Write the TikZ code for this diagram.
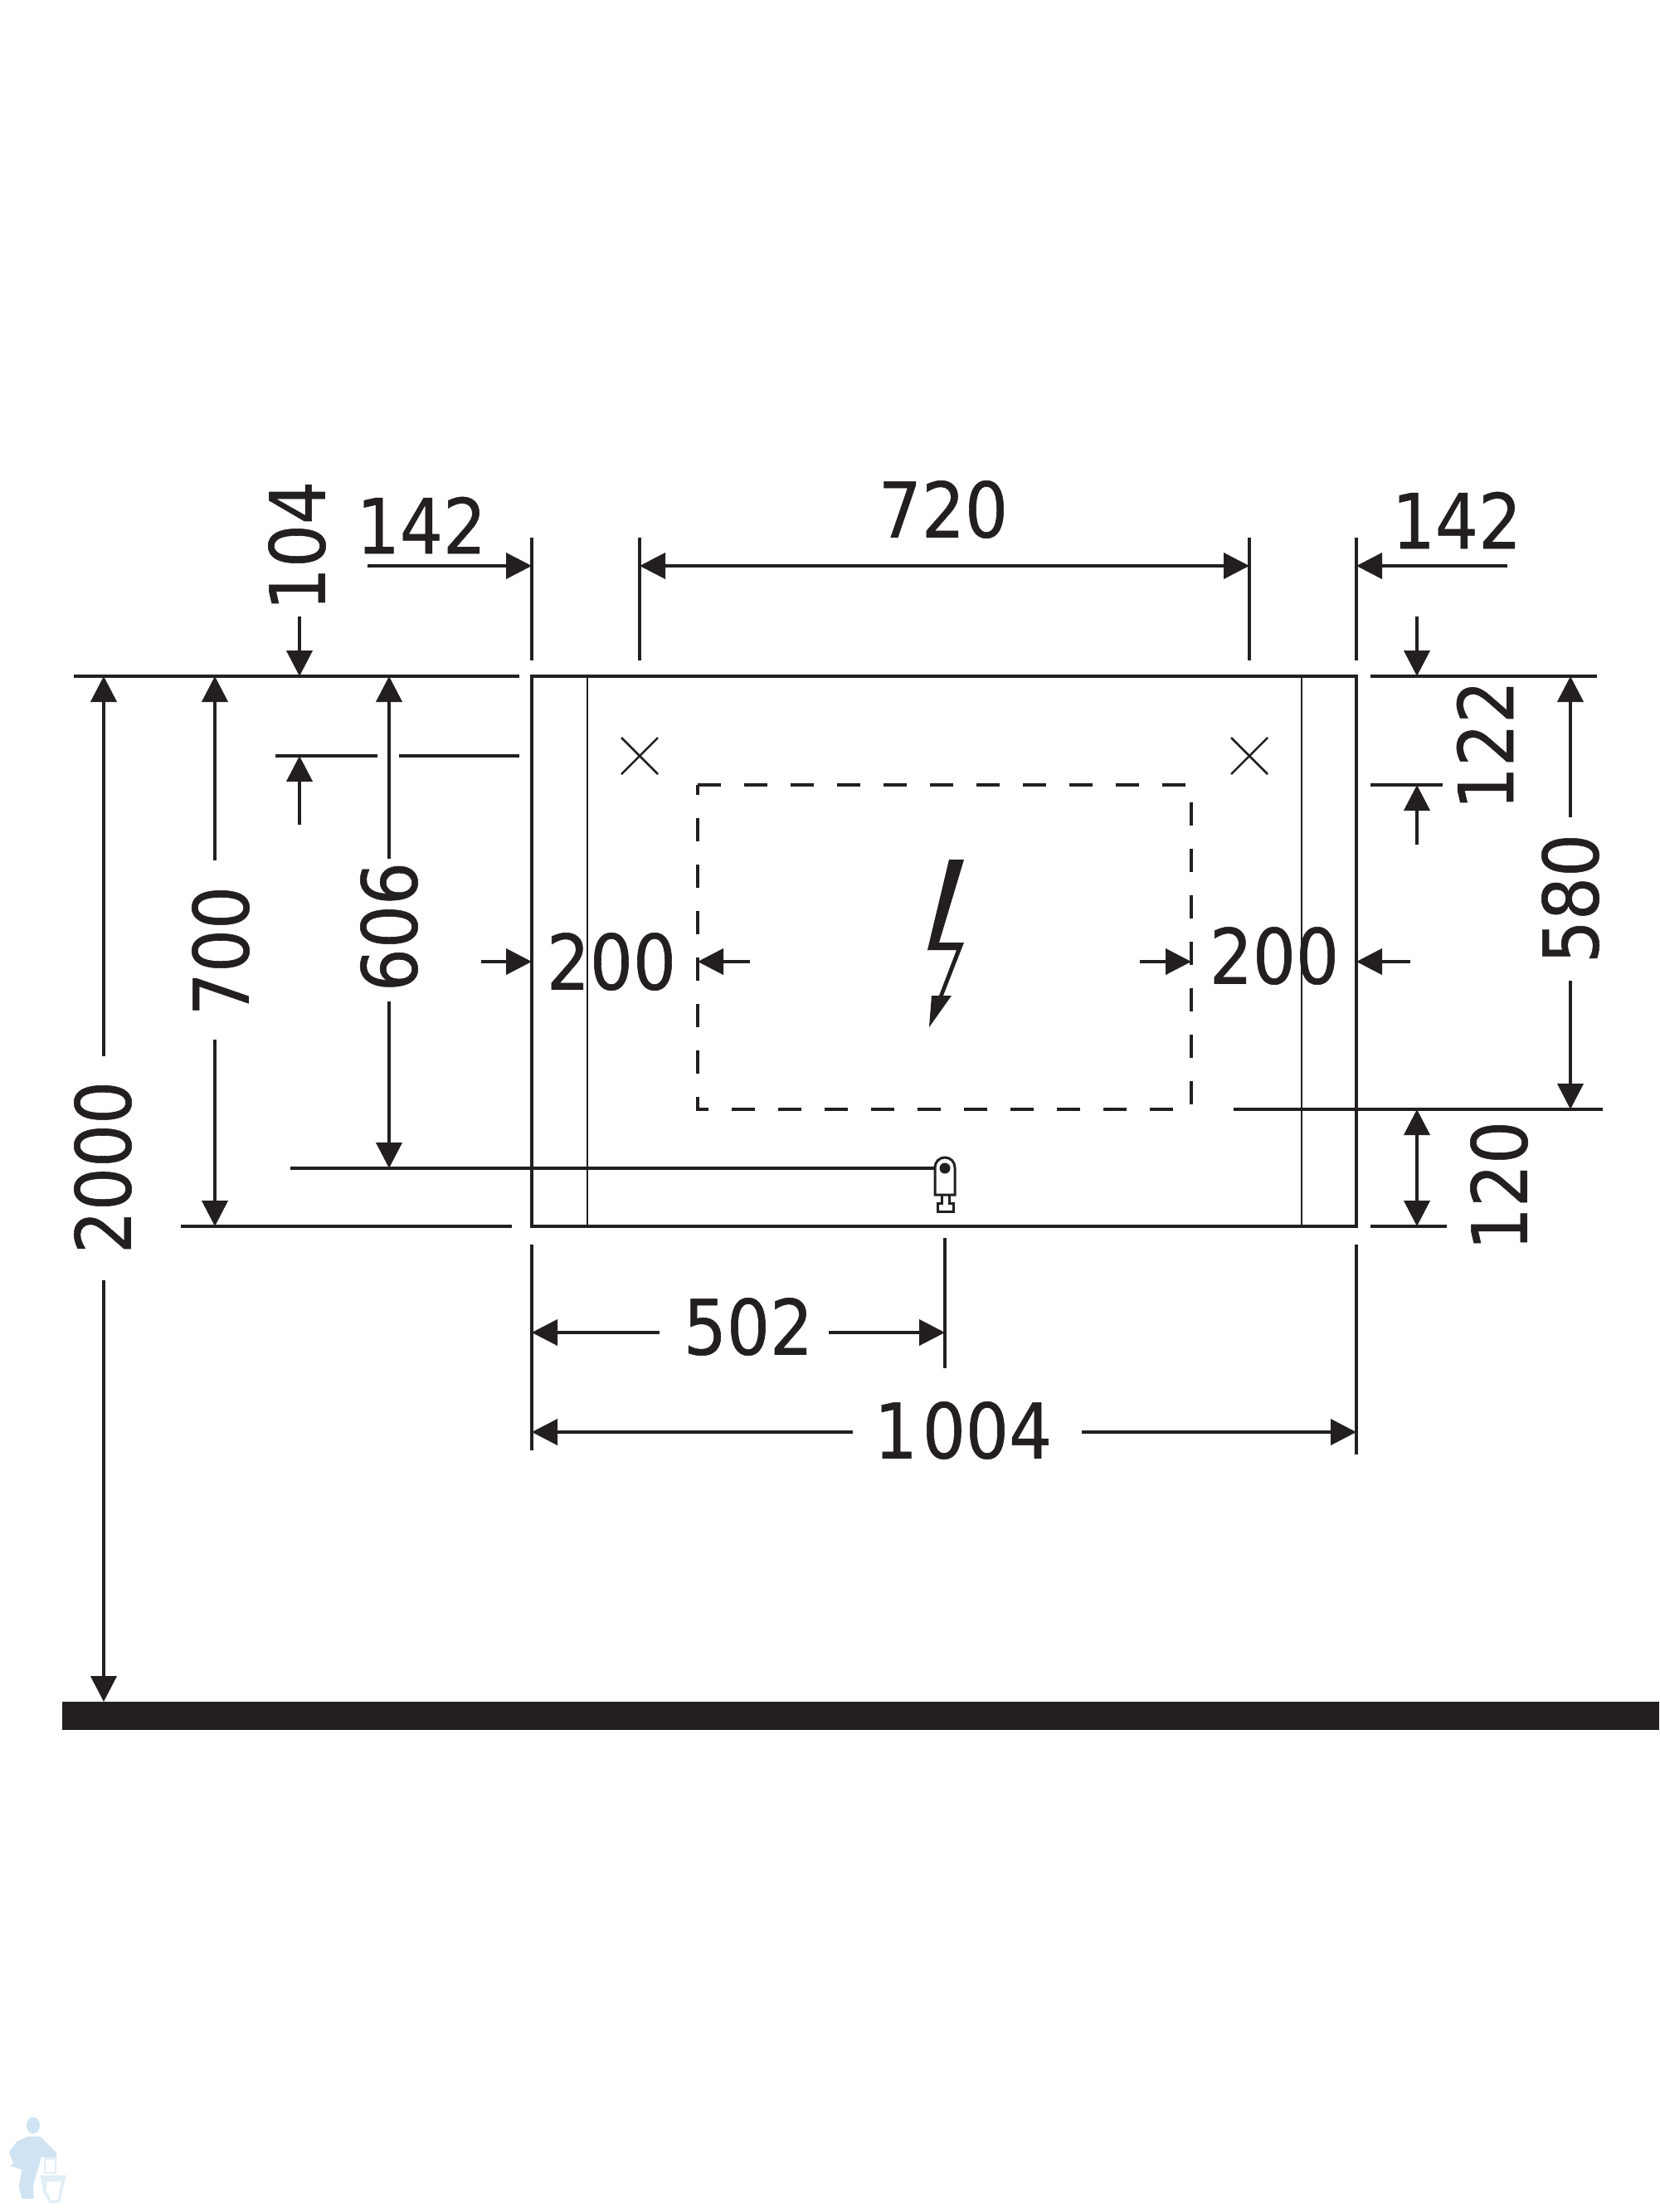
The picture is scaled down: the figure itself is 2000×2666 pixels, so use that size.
\documentclass[tikz,border=0pt]{standalone}
\usepackage{fontspec}
\usetikzlibrary{arrows.meta}
\setmainfont[FakeStretch=0.89,FakeBold=0.6]{DejaVu Sans}
\definecolor{ink}{HTML}{231F20}
\definecolor{wm}{HTML}{CFE3F2}
\definecolor{wmlight}{HTML}{E2EEF6}
\tikzset{
  x=1pt,y=-1pt,
  line/.style={draw=ink,line width=4pt},
  thin line/.style={draw=ink,line width=2.5pt},
  dimA/.style={line,-{Triangle[length=31pt,width=31pt]}},
  dimB/.style={line,{Triangle[length=31pt,width=31pt]}-{Triangle[length=31pt,width=31pt]}},
  lab/.style={text=ink,inner sep=0pt,font=\fontsize{92}{92}\selectfont},
}
\begin{document}
\begin{tikzpicture}
\useasboundingbox (0,0) rectangle (2000,2666);
\fill[white] (0,0) rectangle (2000,2666);
% floor
\fill[ink] (75,2051) rectangle (2000,2085);
% frame
\draw[line] (641,815) rectangle (1635,1478);
\draw[thin line] (708,815) -- (708,1478);
\draw[thin line] (1569,815) -- (1569,1478);
% dashed opening
\draw[line,dash pattern=on 28pt off 28pt] (841,946) -- (1436,946) -- (1436,1337) -- (841,1337) -- cycle;
% crosses
\draw[thin line] (749,889) -- (793,933) (749,933) -- (793,889);
\draw[thin line] (1484,889) -- (1528,933) (1484,933) -- (1528,889);
% extension lines
\draw[line] (89,815) -- (626,815);
\draw[line] (1652,815) -- (1925,815);
\draw[line] (332,911) -- (455,911);
\draw[line] (481,911) -- (626,911);
\draw[line] (1652,946) -- (1739,946);
\draw[line] (1487,1337) -- (1932,1337);
\draw[line] (1652,1478) -- (1744,1478);
\draw[line] (218,1478) -- (617,1478);
\draw[line] (350,1408) -- (1139,1408);
\draw[line] (641,648) -- (641,796);
\draw[line] (771,648) -- (771,796);
\draw[line] (1506,648) -- (1506,796);
\draw[line] (1635,648) -- (1635,796);
\draw[line] (641,1500) -- (641,1748);
\draw[line] (1139,1492) -- (1139,1649);
\draw[line] (1635,1500) -- (1635,1753);
% vertical dims
\draw[dimA] (125,1273) -- (125,815);
\draw[dimA] (125,1543) -- (125,2051);
\draw[dimA] (259,1037) -- (259,815);
\draw[dimA] (259,1253) -- (259,1478);
\draw[dimA] (469,1035) -- (469,815);
\draw[dimA] (469,1207) -- (469,1408);
\draw[dimA] (361,743) -- (361,815);
\draw[dimA] (361,994) -- (361,911);
\draw[dimA] (1708,743) -- (1708,815);
\draw[dimA] (1708,1018) -- (1708,946);
\draw[dimA] (1893,985) -- (1893,815);
\draw[dimA] (1893,1182) -- (1893,1337);
\draw[dimB] (1708,1337) -- (1708,1478);
% horizontal dims
\draw[dimA] (443,682) -- (641,682);
\draw[dimB] (771,682) -- (1506,682);
\draw[dimA] (1817,682) -- (1635,682);
\draw[dimA] (580,1159) -- (641,1159);
\draw[dimA] (904,1159) -- (841,1159);
\draw[dimA] (1374,1159) -- (1436,1159);
\draw[dimA] (1700,1159) -- (1635,1159);
\draw[dimA] (795,1606) -- (641,1606);
\draw[dimA] (999,1606) -- (1139,1606);
\draw[dimA] (1028,1726) -- (641,1726);
\draw[dimA] (1304,1726) -- (1635,1726);
% bolt
\fill[ink] (1144,1036) -- (1162,1036) -- (1132,1136) -- (1162,1136) -- (1137,1200) -- (1147,1200) -- (1120,1238) -- (1123,1200) -- (1132,1200) -- (1153,1145) -- (1118,1145) -- cycle;
% siphon
\draw[line,line width=3pt,fill=white] (1127,1440) -- (1127,1407) arc[start angle=180,end angle=360,radius=12] -- (1151,1440) -- cycle;
\fill[ink] (1139,1408) circle (6.5);
\draw[line,line width=3pt] (1135,1440) -- (1135,1450) -- (1130,1450) -- (1130,1460) -- (1149,1460) -- (1149,1450) -- (1144,1450) -- (1144,1440);
% labels
\node[lab,rotate=90] (n2000) at (124,1407) {2000};
\node[lab,rotate=90] (n700) at (266,1146) {700};
\node[lab,rotate=90] (n606) at (469,1117) {606};
\node[lab,rotate=90] (n104) at (358,658) {104};
\node[lab] (n142l) at (508,633) {142};
\node[lab] (n720) at (1137,614) {720};
\node[lab] (n142r) at (1756,627) {142};
\node[lab,rotate=90] (n122) at (1790,898) {122};
\node[lab,rotate=90] (n580) at (1893,1083) {580};
\node[lab,rotate=90] (n120) at (1807,1429) {120};
\node[lab] (n200l) at (737,1159) {200};
\node[lab] (n200r) at (1536,1152) {200};
\node[lab] (n502) at (902,1599) {502};
\node[lab] (n1004) at (1161,1724) {1\kern6pt 004};
% watermark figure
\begin{scope}[shift={(0,2500)},x=0.3333pt,y=-0.3333pt]
\fill[wmlight] (160,300) rectangle (205,360);
\fill[wmlight] (145,365) -- (240,365) -- (235,385) -- (215,465) -- (180,465) -- (155,425) -- (150,385) -- cycle;
\fill[white] (165,310) rectangle (198,355);
\fill[white] (170,388) -- (222,388) -- (208,455) -- (185,455) -- (168,420) -- cycle;
\fill[wm] (120,185) ellipse (24 and 30);
\fill[wm] (100,225) -- (145,225) -- (205,285) -- (205,300) -- (150,300) -- (135,350) -- (120,400) -- (122,450) -- (80,450) -- (68,405) -- (80,345) -- (35,330) -- (90,305) -- (50,325) -- (32,280) -- (60,245) -- cycle;
\end{scope}
\end{tikzpicture}
\end{document}
